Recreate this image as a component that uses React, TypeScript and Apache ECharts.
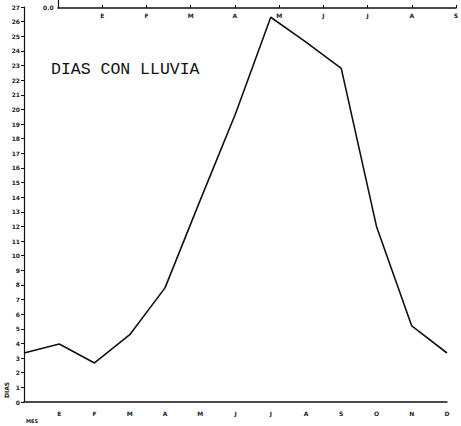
import React, { useEffect, useRef } from "react";
import * as echarts from "echarts";

const months = ["", "E", "F", "M", "A", "M", "J", "J", "A", "S", "O", "N", "D"];
const rainDays = [3.35, 3.96, 2.67, 4.6, 7.8, 13.8, 19.7, 26.3, 24.6, 22.8, 12.0, 5.2, 3.35];
const topMonths = ["", "E", "F", "M", "A", "M", "J", "J", "A", "S"];
const yMin = 0;
const yMax = 27;
const yStep = 1;

export default function App() {
  const ref = useRef<HTMLDivElement>(null);
  useEffect(() => {
    document.body.style.margin = "0";
    const chart = echarts.init(ref.current!, null, { renderer: "svg" });
    const tickFont = { fontSize: 6, fontWeight: "bold" as const, color: "#222", fontFamily: "DejaVu Sans" };
    chart.setOption({
      animation: false,
      backgroundColor: "#ffffff",
      grid: [
        { left: 24, right: 14, top: 7, bottom: 24, containLabel: false, outerBoundsMode: "none" },
        { left: 58, top: 0, height: 8, width: 398, containLabel: false, outerBoundsMode: "none" },
      ],
      xAxis: [
        {
          type: "category",
          gridIndex: 0,
          data: months,
          boundaryGap: false,
          axisLine: { lineStyle: { color: "#111", width: 1.5 } },
          axisTick: { show: false },
          axisLabel: { ...tickFont, margin: 8, interval: 0 },
          splitLine: { show: false },
        },
        {
          type: "category",
          gridIndex: 1,
          data: topMonths,
          boundaryGap: false,
          position: "bottom",
          axisLine: { lineStyle: { color: "#111", width: 1.5 } },
          axisTick: { show: true, inside: true, length: 3, lineStyle: { color: "#111" } },
          axisLabel: { ...tickFont, margin: 4, interval: 0 },
          splitLine: { show: false },
        },
      ],
      yAxis: [
        {
          type: "value",
          gridIndex: 0,
          min: yMin,
          max: yMax,
          interval: yStep,
          axisLine: { show: true, lineStyle: { color: "#111", width: 1.2 } },
          axisTick: { show: true, length: 3, lineStyle: { color: "#111" } },
          axisLabel: { ...tickFont, margin: 4 },
          splitLine: { show: false },
        },
        {
          type: "value",
          gridIndex: 1,
          min: 0,
          max: 1,
          axisLine: { show: true, lineStyle: { color: "#111", width: 1.2 } },
          axisTick: { show: false },
          axisLabel: { show: false },
          splitLine: { show: false },
        },
      ],
      series: [
        {
          type: "line",
          xAxisIndex: 0,
          yAxisIndex: 0,
          data: rainDays,
          symbol: "none",
          lineStyle: { color: "#111", width: 1.6 },
        },
      ],
      graphic: [
        {
          type: "text",
          left: 51,
          top: 61,
          style: {
            text: "DIAS CON LLUVIA",
            font: "16.5px 'Liberation Mono'",
            fill: "#111",
          },
        },
        {
          type: "text",
          left: 43,
          top: 4,
          style: { text: "0.0", font: "bold 6px 'DejaVu Sans'", fill: "#222" },
        },
        {
          type: "text",
          left: 26,
          top: 418,
          style: { text: "MES", font: "bold 5px 'DejaVu Sans'", fill: "#222" },
        },
        {
          type: "text",
          x: 3,
          y: 398,
          rotation: Math.PI / 2,
          style: { text: "DIAS", font: "bold 6px 'DejaVu Sans'", fill: "#222" },
        },
      ],
    });
    return () => chart.dispose();
  }, []);
  return <div ref={ref} style={{ width: 461, height: 426 }} />;
}
